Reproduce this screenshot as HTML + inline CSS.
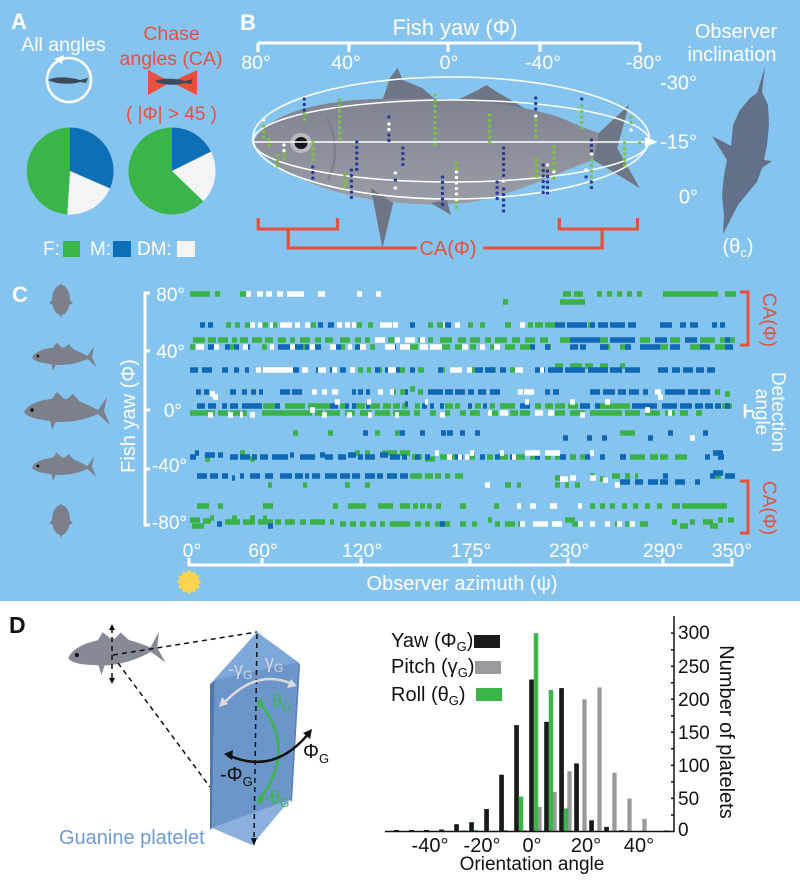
<!DOCTYPE html>
<html><head><meta charset="utf-8"><style>
html,body{margin:0;padding:0;background:#fff;}
svg{display:block;}
text{font-family:"Liberation Sans",sans-serif;}
</style></head><body>
<svg width="800" height="880" viewBox="0 0 800 880" xmlns="http://www.w3.org/2000/svg">
<defs>
<g id="fish">
<path d="M0 2 C6 -10 31 -14 51 -10 C61 -7 68 -3 74 0 L83 -13 L80 1 L86 15 L74 4 C61 10 41 14 26 11 C11 9 3 7 0 2 Z"/>
<path d="M28 -11 L33 -18 L40 -11 Z M42 -10 L49 -16 L56 -8 Z M26 10 L28 20 L32 11 Z"/>
<circle cx="8" cy="0" r="1.8" fill="#111"/>
</g>
<linearGradient id="fg" x1="0" y1="0" x2="0" y2="1">
<stop offset="0" stop-color="#7E8390"/><stop offset="1" stop-color="#9B9DA5"/>
</linearGradient>
</defs>
<rect x="0" y="0" width="800" height="601" fill="#84C4EE"/>
<rect x="0" y="601" width="800" height="279" fill="#FFFFFF"/>

<!-- ===== Panel A ===== -->
<text x="11" y="29" font-size="22" font-weight="bold" fill="#fff">A</text>
<text x="63.5" y="51" font-size="19.5" fill="#fff" text-anchor="middle">All angles</text>
<circle cx="69" cy="80" r="22" fill="none" stroke="#fff" stroke-width="2.5"/>
<path d="M54 59 L64 55 L62 64 Z" fill="#fff"/>
<path d="M48 80 C55 76 70 77 80 80 L88 78 L86 83 L80 82 C70 85 55 84 48 80 Z" fill="#3E4A5C"/>
<text x="171.5" y="40" font-size="19.5" fill="#E8503D" text-anchor="middle">Chase</text>
<text x="171" y="65" font-size="19.5" fill="#E8503D" text-anchor="middle">angles (CA)</text>
<path d="M148 70 L171 82 L148 95 Z M197 70 L171 82 L197 95 Z" fill="#E8503D"/>
<path d="M155 81 C160 78 175 78 185 81 L193 79 L191 84 L185 83 C175 86 160 85 155 81 Z" fill="#3E4A5C"/>
<text x="171.5" y="120" font-size="19" fill="#E8503D" text-anchor="middle">( |Φ| &gt; 45 )</text>
<path d="M70 171 L70 127.5 A43.5 43.5 0 0 1 109.9 188.4 Z" fill="#0D6FB8"/>
<path d="M70 171 L109.9 188.4 A43.5 43.5 0 0 1 67.3 214.4 Z" fill="#F4F4F4"/>
<path d="M70 171 L67.3 214.4 A43.5 43.5 0 0 1 70 127.5 Z" fill="#39B54A"/>
<path d="M172 171 L172 127.5 A43.5 43.5 0 0 1 211 151.6 Z" fill="#0D6FB8"/>
<path d="M172 171 L211 151.6 A43.5 43.5 0 0 1 203.3 201.2 Z" fill="#F4F4F4"/>
<path d="M172 171 L203.3 201.2 A43.5 43.5 0 1 1 172 127.5 Z" fill="#39B54A"/>
<text x="43" y="255" font-size="19" fill="#fff">F:</text>
<rect x="63" y="241" width="17" height="16" fill="#39B54A"/>
<text x="90" y="255" font-size="19" fill="#fff">M:</text>
<rect x="113" y="241" width="18" height="16" fill="#0D6FB8"/>
<text x="137" y="255" font-size="19" fill="#fff">DM:</text>
<rect x="177" y="241" width="18" height="16" fill="#F4F4F4"/>

<!-- ===== Panel B ===== -->
<text x="240" y="30" font-size="22" font-weight="bold" fill="#fff">B</text>
<text x="455" y="35" font-size="22" fill="#fff" text-anchor="middle">Fish yaw  (Φ)</text>
<path d="M258 43 H640 M258 43 V52 M349 43 V52 M448 43 V52 M540 43 V52 M640 43 V52" stroke="#fff" stroke-width="3" fill="none"/>
<g font-size="19.5" fill="#fff" text-anchor="middle">
<text x="256" y="69">80°</text>
<text x="346" y="69">40°</text>
<text x="449" y="69">0°</text>
<text x="543" y="69">-40°</text>
<text x="644" y="69">-80°</text>
</g>
<g transform="matrix(1.0714 0 0 1 -17.14 0)">
<path d="M373 100 L380 78 L387 68 L392 80 L410 88 L423 100 Z" fill="#6E7686"/>
<path d="M443 100 L462 90 L470 85 L480 92 L493 100 L505 108 L480 108 Z" fill="#6E7686"/>
<path d="M253 142 C262 118 300 104 350 100 C420 95 490 100 540 118 C555 125 565 130 575 133 L603 105 L592 148 L613 188 L570 160 C540 170 500 195 450 203 C400 208 340 200 300 180 C275 168 258 155 253 142 Z" fill="url(#fg)"/>
<path d="M575 133 L603 105 L592 148 L613 188 L570 160 Z" fill="#6E7686"/>
<path d="M362 188 L373 248 L383 203 Z" fill="#6E7686"/>
<path d="M418 203 L437 215 L433 200 Z" fill="#6E7686"/>
<path d="M320 115 C330 135 332 160 322 180" stroke="#7A7F8B" stroke-width="2" fill="none"/>
<circle cx="297" cy="143" r="10" fill="#B8BAC0"/>
<circle cx="297" cy="143" r="6" fill="#151515"/>
<g fill="none" stroke="#fff" stroke-width="1.5">
<ellipse cx="437" cy="138" rx="185" ry="61"/>
<ellipse cx="437" cy="141" rx="185" ry="41"/>
<line x1="252" y1="142" x2="620" y2="142"/>
</g>
<path d="M618 137 L630 142 L618 147 Z" fill="#fff"/>
<g stroke-width="3.2" stroke-linecap="round" stroke-dasharray="0 5.5" fill="none">
<path stroke="#7DC242" d="M262 126V140 M267 140V148 M275 155V167 M281 153V160 M300 114V123 M308 143V165 M333 100V142 M338 175V188 M422 95V150 M442 163V170 M442 202V210 M473 115V143 M516 120V137 M517 160V180 M523 170V178 M533 147V170 M533 178V183 M559 106V132 M568 160V180 M599 143V168 M605 117V128 M613 143V148"/>
<path stroke="#2B3A9A" d="M300 99V112 M308 167V180 M344 170V200 M349 142V170 M379 117V122 M379 135V143 M385 180V185 M392 148V170 M429 177V210 M480 182V203 M486 148V178 M486 189V213 M516 98V112 M523 165V195 M527 171V195 M559 99V104 M563 177V182 M568 140V152 M568 182V188"/>
<path stroke="#FFFFFF" d="M262 120V124 M281 145V152 M379 124V133 M385 173V178 M385 188V193 M442 172V200 M486 181V186 M516 116V118 M527 165V168 M533 172V176 M563 170V175 M568 154V158 M605 130V135"/>
</g>
<path d="M257 218 V229 H331 V218 M285 229 V248 H405 M467 248 H578 V229 M538 218 V229 H611 V218" stroke="#E8503D" stroke-width="3" fill="none"/>
</g>
<text x="448" y="255" font-size="20" fill="#E8503D" text-anchor="middle">CA(Φ)</text>
<text x="736" y="38" font-size="20" fill="#fff" text-anchor="middle">Observer</text>
<text x="732" y="61" font-size="20" fill="#fff" text-anchor="middle">inclination</text>
<g font-size="20" fill="#fff" text-anchor="end">
<text x="697" y="89.5">-30°</text>
<text x="697" y="148.5">-15°</text>
<text x="698" y="203.5">0°</text>
</g>
<path d="M765 67 L762 92 L768 105 L769 125 L767 145 L764 160 L772 161 L762 168 L757 182 L746 195 L738 205 L723 234 L724 215 L722 195 L724 175 L727 160 L712 136 L731 146 L733 125 L740 110 L750 98 L757 93 Z" fill="#62708A"/>
<text x="738" y="253" font-size="20" fill="#fff" text-anchor="middle">(θ<tspan font-size="13" dy="4">c</tspan><tspan dy="-4">)</tspan></text>

<!-- ===== Panel C ===== -->
<text x="12" y="302" font-size="22" font-weight="bold" fill="#fff">C</text>
<g fill="#7B808B">
<ellipse cx="61" cy="300" rx="9" ry="15"/>
<path d="M61 283 L63 288 L59 288 Z M61 318 L63 312 L59 312 Z M52 300 L49 303 L53 305 Z M70 300 L73 303 L69 305 Z"/>
<use href="#fish" transform="translate(32,356) scale(0.75)"/>
<use href="#fish" transform="translate(24,410)"/>
<use href="#fish" transform="translate(32,466) scale(0.75)"/>
<ellipse cx="61" cy="520" rx="9" ry="15"/>
<path d="M61 503 L63 508 L59 508 Z M61 538 L63 532 L59 532 Z M52 520 L49 523 L53 525 Z M70 520 L73 523 L69 525 Z"/>
</g>
<text transform="translate(135,416) rotate(-90)" font-size="20" fill="#fff" text-anchor="middle">Fish yaw (Φ)</text>
<path d="M150 293 H145 V525 H150 M145 351 H150 M145 410 H150 M145 469 H150" stroke="#fff" stroke-width="3" fill="none"/>
<g font-size="19" fill="#fff" text-anchor="end">
<text x="185" y="301">80°</text>
<text x="185" y="358">40°</text>
<text x="182" y="417">0°</text>
<text x="187" y="472">-40°</text>
<text x="187" y="529">-80°</text>
</g>
<g stroke-width="5.5" fill="none">
<path stroke="#3BB14A" d="M190 294h20M215 294h5M240 294h6M563 294h8M574 294h9M597 294h5M607 294h5M617 294h5M627 294h5M637 294h5M663 294h55M725 294h11M560 302h25M503 302h5
M226 325h5M235 325h5M245 325h5M263 325h5M272 325h5M311 325h5M357 325h5M368 325h5M428 325h5M437 325h7M468 325h5M480 325h5M505 325h6M528 325h5M535 325h8M545 325h10M588 325h5
M193 340h12M208 340h8M218 340h10M232 340h5M240 340h8M252 340h10M265 340h8M278 340h8M290 340h5M300 340h10M315 340h6M325 340h8M340 340h10M355 340h6M365 340h5M388 340h6M418 340h6M428 340h5M440 340h12M458 340h8M470 340h10M485 340h6M495 340h12M512 340h8M525 340h10M540 340h8M560 340h10M600 340h8M640 340h10M670 340h10M700 340h15M720 340h15
M190 347h5M230 347h5M262 347h5M300 347h5M340 347h5M370 347h5M410 347h8M440 347h10M455 347h8M470 347h6M490 347h5M505 347h10M520 347h12M545 347h6M600 347h10M620 347h10M660 347h8M690 347h10M715 347h10
M358 370h5M367 370h4M378 370h4M400 370h5M418 370h6M440 370h5M455 370h5M470 370h5M490 370h6M510 370h8M555 366h8M570 366h12M585 366h8M600 366h8M620 366h5
M391 392h5M400 392h6M410 389h5M418 392h5M715 392h5M725 394h5
M263 406h12M285 406h20M308 406h18M325 406h6M340 406h6M355 406h10M370 406h10M383 406h8M393 406h7M402 406h6M415 406h5M445 406h8M455 406h5M475 406h6M490 406h5M500 406h15M535 406h6M545 406h8M555 406h10M568 406h10M600 406h30M722 406h10
M190 413h25M218 413h10M230 413h10M242 413h5M262 413h50M315 413h8M325 413h15M345 413h10M360 413h12M375 413h15M393 413h7M400 413h10M414 413h6M430 413h6M445 413h5M460 413h6M470 413h10M490 413h8M510 413h8M520 413h10M555 413h10M570 413h15M590 413h20M610 413h12M625 413h15M645 413h15M665 413h10M680 413h8M696 413h6
M293 433h5M328 433h5M375 433h5M395 433h5M620 433h15
M205 459h5M240 453h5M250 459h5M355 453h5M365 453h5M382 453h15M400 453h10M412 457h10M425 459h10M440 457h10M450 457h5M470 457h5M487 457h6M500 457h8M515 457h10M530 457h5M545 457h6M555 457h5M570 457h6M580 457h5M620 457h5M630 457h15M650 457h8M660 457h8M675 457h12
M410 476h12M425 476h8M435 476h6M445 476h5M455 476h8M590 476h5M600 479h5M612 476h8M625 476h5M635 476h3M715 476h6M268 485h4M303 485h4M345 485h5M365 485h5M505 485h6M517 485h4M555 485h5M565 485h4M575 485h5M555 478h5
M197 506h12M218 506h5M263 506h10M333 506h5M348 506h18M378 506h15M400 506h10M413 506h5M420 506h5M427 506h5M436 506h5M460 506h6M494 506h5M590 506h5M600 506h5M610 506h5M622 506h5M633 506h5M645 506h5M657 506h5M672 506h8M682 506h45
M190 520h10M192 526h12M203 521h8M210 518h4M225 522h15M232 518h5M243 522h12M250 518h5M258 522h15M263 518h4M275 522h6M285 522h10M300 522h6M310 522h15M330 522h4M340 524h6M350 524h6M360 524h6M370 524h6M380 524h5M390 524h10M400 524h10M415 524h6M425 524h5M435 524h8M445 524h5M460 524h6M472 524h5M488 520h4M495 524h5M505 524h10M518 524h5M540 524h4M565 520h10M572 524h8M615 524h5M625 524h4M640 524h8M672 522h5M680 526h8M690 522h5M703 522h10M710 526h8M718 520h5M728 520h6"/>
<path stroke="#1068B5" d="M200 325h5M208 325h5M318 325h5M328 325h6M410 325h5M445 325h6M555 325h10M567 325h20M590 325h5M598 325h10M610 325h15M628 325h8M660 325h12M680 325h6M690 325h8M712 325h5M720 325h5
M570 340h30M610 340h25M655 340h12M685 340h12M725 340h5
M208 347h6M225 347h5M234 347h5M246 347h4M278 347h5M283 347h20M305 347h4M315 347h6M335 347h6M355 347h5M392 347h4M530 347h5M545 347h5M570 347h8M580 347h6M600 347h8M625 347h6M640 347h20M670 347h10M700 347h10M725 347h8
M190 370h8M202 370h10M222 370h6M234 370h5M245 370h4M292 370h7M316 370h5M330 370h3M340 370h6M375 370h5M385 370h5M395 370h5M410 370h5M438 370h5M475 370h8M485 370h10M500 370h6M515 370h5M535 370h10M548 370h15M565 370h20M588 370h20M610 370h12M625 370h15M658 370h10M672 370h8M683 370h10M696 370h8M707 370h8
M196 392h5M204 392h5M230 392h6M242 392h5M251 392h5M259 392h4M280 392h10M292 392h10M352 392h4M358 392h5M366 392h4M405 392h3M428 392h15M445 392h8M455 392h10M468 392h6M478 392h8M490 392h10M545 392h5M553 392h6M590 392h10M603 392h12M618 392h8M629 392h10M643 392h5M665 392h20M688 392h10M700 392h10
M197 406h8M208 406h8M222 406h5M230 406h8M242 406h20M275 406h5M330 406h8M345 406h4M352 406h4M366 406h4M405 404h3M422 406h5M430 406h4M440 406h4M468 406h4M483 406h4M520 406h10M580 406h10M595 406h5M632 406h25M662 406h15M680 406h12M695 406h8M705 406h8M715 406h6M725 406h5
M363 433h5M400 433h5M420 433h5M441 433h5M447 433h6M460 433h5M475 433h5M563 438h5M587 438h5M602 438h5M648 438h5M668 433h5M703 433h5
M190 457h6M195 453h4M205 455h10M218 455h5M230 457h8M240 457h10M252 457h5M260 457h8M272 457h8M280 457h8M290 455h4M300 457h15M320 455h5M325 457h8M338 457h8M348 455h8M358 457h5M365 457h10M380 455h8M390 457h10M402 457h5M415 457h5M425 457h5M455 457h5M460 457h3M480 457h5M495 457h5M510 457h4M535 457h5M560 457h6M585 457h5M600 457h5M620 457h6M705 457h5M713 453h10M718 457h6
M197 476h10M210 476h8M222 476h6M232 478h3M240 476h4M250 476h10M265 476h8M280 476h12M295 476h8M305 476h4M312 476h8M325 476h12M340 476h10M352 476h8M365 476h10M377 476h6M387 476h10M400 476h8M663 476h5M710 476h5M713 473h10M725 476h10M620 482h10M635 482h8M648 482h10M660 482h8M675 482h10M695 482h5
M217 524h5M268 526h5M440 524h5"/>
<path stroke="#FFFFFF" d="M246 294h5M257 294h6M266 294h6M277 294h6M287 294h17M318 294h7M357 294h5M376 294h5
M250 325h5M258 325h4M270 325h3M280 325h12M295 325h5M305 325h5M337 325h5M345 325h5M352 325h4M380 325h12M393 325h5M455 325h5M443 325h2M520 325h5
M375 340h10M395 340h5M405 340h10M420 340h5
M196 347h8M214 347h5M243 347h5M270 347h4M290 347h5M310 347h5M330 347h6M348 347h4M360 347h6M385 347h10M400 347h10M420 347h8M430 347h12M462 347h6M480 347h5M494 347h6
M256 370h5M263 370h30M302 370h6M318 370h8M332 370h5M350 370h5M388 370h8M450 370h12M467 370h5M515 370h8M540 370h4
M210 394h5M213 397h5M312 392h5M322 392h5M332 392h6M378 392h5M390 392h4M518 392h5M524 392h10M655 392h6M658 397h5
M335 402h5M367 402h4M425 402h3M525 402h4M570 402h5M605 402h5M208 415h5M228 415h5M240 415h3M250 415h5M310 410h5M322 415h5M347 415h5M368 415h4M395 415h4M440 415h5M488 413h4M500 413h8M535 413h8M548 413h6M580 415h5M645 410h5M668 413h4
M690 438h5
M435 453h4M447 457h5M458 457h4M465 457h4M470 453h4M500 453h4M512 457h4M525 453h15M545 453h12M555 453h5M590 453h4
M485 485h5M590 478h6M603 480h5M560 479h8M570 478h6M615 485h5
M517 506h4M530 506h6M550 506h7M578 506h4
M520 524h5M533 524h15M552 524h10M578 524h5M590 524h5M605 524h5M617 524h5M630 524h5"/>
</g>
<path d="M189 558 V565 H732 V558 M262 565 V558 M361 565 V558 M470 565 V558 M568 565 V558 M663 565 V558" stroke="#fff" stroke-width="3" fill="none"/>
<g font-size="19.5" fill="#fff" text-anchor="middle">
<text x="192" y="557">0°</text>
<text x="263" y="557">60°</text>
<text x="362" y="557">120°</text>
<text x="471" y="557">175°</text>
<text x="569" y="557">230°</text>
<text x="663" y="557">290°</text>
<text x="732" y="557">350°</text>
</g>
<text x="462" y="590" font-size="20" fill="#fff" text-anchor="middle">Observer azimuth (ψ)</text>
<polygon points="201.5,582 198.2,584.5 199.8,588.3 195.7,588.7 195.3,592.8 191.5,591.2 189,594.5 186.5,591.2 182.7,592.8 182.3,588.7 178.2,588.3 179.8,584.5 176.5,582 179.8,579.5 178.2,575.8 182.3,575.3 182.7,571.2 186.5,572.8 189,569.5 191.5,572.8 195.3,571.2 195.7,575.3 199.8,575.8 198.2,579.5" fill="#FDD44E"/>
<path d="M740 292 H748 V345 H740 M740 481 H748 V533 H740" stroke="#E8503D" stroke-width="3" fill="none"/>
<text transform="translate(770,320) rotate(90)" y="7" font-size="19" fill="#E8503D" text-anchor="middle">CA(Φ)</text>
<text transform="translate(770,508) rotate(90)" y="7" font-size="19" fill="#E8503D" text-anchor="middle">CA(Φ)</text>
<path d="M745 404 V418 M745 411 H753" stroke="#fff" stroke-width="2.5" fill="none"/>
<text transform="translate(779,412) rotate(90)" y="7" font-size="19" fill="#fff" text-anchor="middle">Detection</text>
<text transform="translate(763,412) rotate(90)" y="7" font-size="19" fill="#fff" text-anchor="middle">angle</text>

<!-- ===== Panel D ===== -->
<text x="9" y="633" font-size="23" font-weight="bold" fill="#111">D</text>
<g fill="#868A95"><use href="#fish" transform="translate(68,656) rotate(-6) scale(1.12)"/></g>
<g stroke="#111" stroke-width="1.5" stroke-dasharray="5 4" fill="none">
<line x1="112" y1="628" x2="112" y2="680"/>
<line x1="113" y1="655" x2="257" y2="632"/>
<line x1="118" y1="663" x2="210" y2="787"/>
</g>
<path d="M109 630 L112 624 L115 630 Z M109 678 L112 684 L115 678 Z" fill="#111"/>
<path d="M210 684 L215 680 L212 828 L210 830 Z" fill="#4F79AE"/>
<path d="M212 682 L257 632 L298 662 Z" fill="#7EA7DA"/>
<path d="M215 680 L298 662 L290 800 L212 828 Z" fill="#6C96C9"/>
<path d="M212 828 L290 800 L252 845 Z" fill="#8BB0DE"/>
<path d="M298 662 L300 665 L292 802 L290 800 Z" fill="#5A84B8"/>
<line x1="257" y1="634" x2="254" y2="840" stroke="#111" stroke-width="1.5" stroke-dasharray="5 4"/>
<path d="M251 838 L254 846 L257 838 Z" fill="#111"/>
<path d="M224 703 Q257 668 292 684" stroke="#DADADA" stroke-width="2.5" fill="none"/>
<path d="M219 707 L222 697 L228 704 Z M297 686 L287 688 L291 679 Z" fill="#DADADA"/>
<path d="M261 704 Q297 752 259 800" stroke="#3BB54A" stroke-width="2.5" fill="none"/>
<path d="M259 698 L257 708 L265 704 Z M257 805 L258 795 L265 800 Z" fill="#3BB54A"/>
<path d="M230 756 Q275 775 309 733" stroke="#111" stroke-width="2.5" fill="none"/>
<path d="M224 754 L233 750 L232 760 Z M312 729 L303 733 L310 739 Z" fill="#111"/>
<g font-size="18">
<text x="228" y="675" fill="#D5D8DC">-γ<tspan font-size="12" dy="4">G</tspan></text>
<text x="265" y="668" fill="#D5D8DC">γ<tspan font-size="12" dy="4">G</tspan></text>
<text x="272" y="707" fill="#3BB54A">θ<tspan font-size="12" dy="4">G</tspan></text>
<text x="264" y="803" fill="#3BB54A">-θ<tspan font-size="12" dy="4">G</tspan></text>
<text x="303" y="758" fill="#111" font-size="20">Φ<tspan font-size="13" dy="5">G</tspan></text>
<text x="220" y="781" fill="#111" font-size="20">-Φ<tspan font-size="13" dy="5">G</tspan></text>
</g>
<text x="59" y="844" font-size="20" fill="#6F9BD3">Guanine platelet</text>

<g fill="#9A9A9E">
<rect x="462.35" y="830.2" width="4.3" height="1.3"/>
<rect x="522.35" y="830.2" width="4.3" height="1.3"/>
<rect x="537.35" y="807" width="4.3" height="24.5"/>
<rect x="552.35" y="791.8" width="4.3" height="39.7"/>
<rect x="567.35" y="771.3" width="4.3" height="60.2"/>
<rect x="582.35" y="699.3" width="4.3" height="132.2"/>
<rect x="597.35" y="687.4" width="4.3" height="144.1"/>
<rect x="612.35" y="772.7" width="4.3" height="58.8"/>
<rect x="627.35" y="798.5" width="4.3" height="33"/>
<rect x="642.35" y="818.9" width="4.3" height="12.6"/>
</g>
<g fill="#1A1A1A">
<rect x="394.2" y="830" width="4.7" height="1.5"/>
<rect x="409.2" y="830" width="4.7" height="1.5"/>
<rect x="424.2" y="830" width="4.7" height="1.5"/>
<rect x="439.2" y="829.5" width="4.7" height="2"/>
<rect x="454.2" y="824.2" width="4.7" height="7.3"/>
<rect x="469.2" y="822.2" width="4.7" height="9.3"/>
<rect x="484.2" y="809" width="4.7" height="22.5"/>
<rect x="499.2" y="774.7" width="4.7" height="56.8"/>
<rect x="514.2" y="725.1" width="4.7" height="106.4"/>
<rect x="529.2" y="679.5" width="4.7" height="152"/>
<rect x="544.2" y="721.8" width="4.7" height="109.7"/>
<rect x="559.2" y="688.1" width="4.7" height="143.4"/>
<rect x="574.2" y="763.4" width="4.7" height="68.1"/>
<rect x="589.2" y="820.3" width="4.7" height="11.2"/>
<rect x="604.2" y="826.9" width="4.7" height="4.6"/>
<rect x="619.2" y="830.2" width="4.7" height="1.3"/>
<rect x="664.2" y="830.5" width="4.7" height="1"/>
</g>
<g fill="#3BB54A">
<rect x="473.75" y="830.2" width="4.5" height="1.3"/>
<rect x="503.75" y="830.2" width="4.5" height="1.3"/>
<rect x="518.75" y="796.5" width="4.5" height="35"/>
<rect x="533.75" y="633.2" width="4.5" height="198.3"/>
<rect x="548.75" y="690" width="4.5" height="141.5"/>
<rect x="563.75" y="808.4" width="4.5" height="23.1"/>
</g>
<path d="M385 831.5 H674 V616 M671 831.5 H674 M671 815 H674 M671 798.4 H674 M671 781.9 H674 M671 765.4 H674 M671 748.8 H674 M671 732.3 H674 M671 715.8 H674 M671 699.3 H674 M671 682.7 H674 M671 666.2 H674 M671 649.7 H674 M671 633.1 H674" stroke="#111" stroke-width="1.5" fill="none"/>
<g font-size="19" fill="#111">
<text x="678" y="639">300</text>
<text x="678" y="673">250</text>
<text x="678" y="706">200</text>
<text x="678" y="739">150</text>
<text x="678" y="772">100</text>
<text x="678" y="805">50</text>
<text x="678" y="836">0</text>
</g>
<text transform="translate(727,732) rotate(90)" y="7" font-size="20" fill="#111" text-anchor="middle">Number of platelets</text>
<g font-size="20" fill="#111" text-anchor="middle">
<text x="430" y="852">-40°</text>
<text x="482" y="852">-20°</text>
<text x="532" y="852">0°</text>
<text x="586" y="852">20°</text>
<text x="639" y="852">40°</text>
</g>
<text x="532" y="870" font-size="19" fill="#111" text-anchor="middle">Orientation angle</text>
<g font-size="20" fill="#111">
<text x="391" y="647">Yaw (Φ<tspan font-size="13" dy="4">G</tspan><tspan dy="-4">)</tspan></text>
<text x="391" y="673">Pitch (γ<tspan font-size="13" dy="4">G</tspan><tspan dy="-4">)</tspan></text>
<text x="391" y="701">Roll (θ<tspan font-size="13" dy="4">G</tspan><tspan dy="-4">)</tspan></text>
</g>
<rect x="474" y="635" width="26" height="13" fill="#1A1A1A"/>
<rect x="475" y="661" width="26" height="13" fill="#9A9A9E"/>
<rect x="476" y="688" width="26" height="13" fill="#3BB54A"/>
</svg>
</body></html>
